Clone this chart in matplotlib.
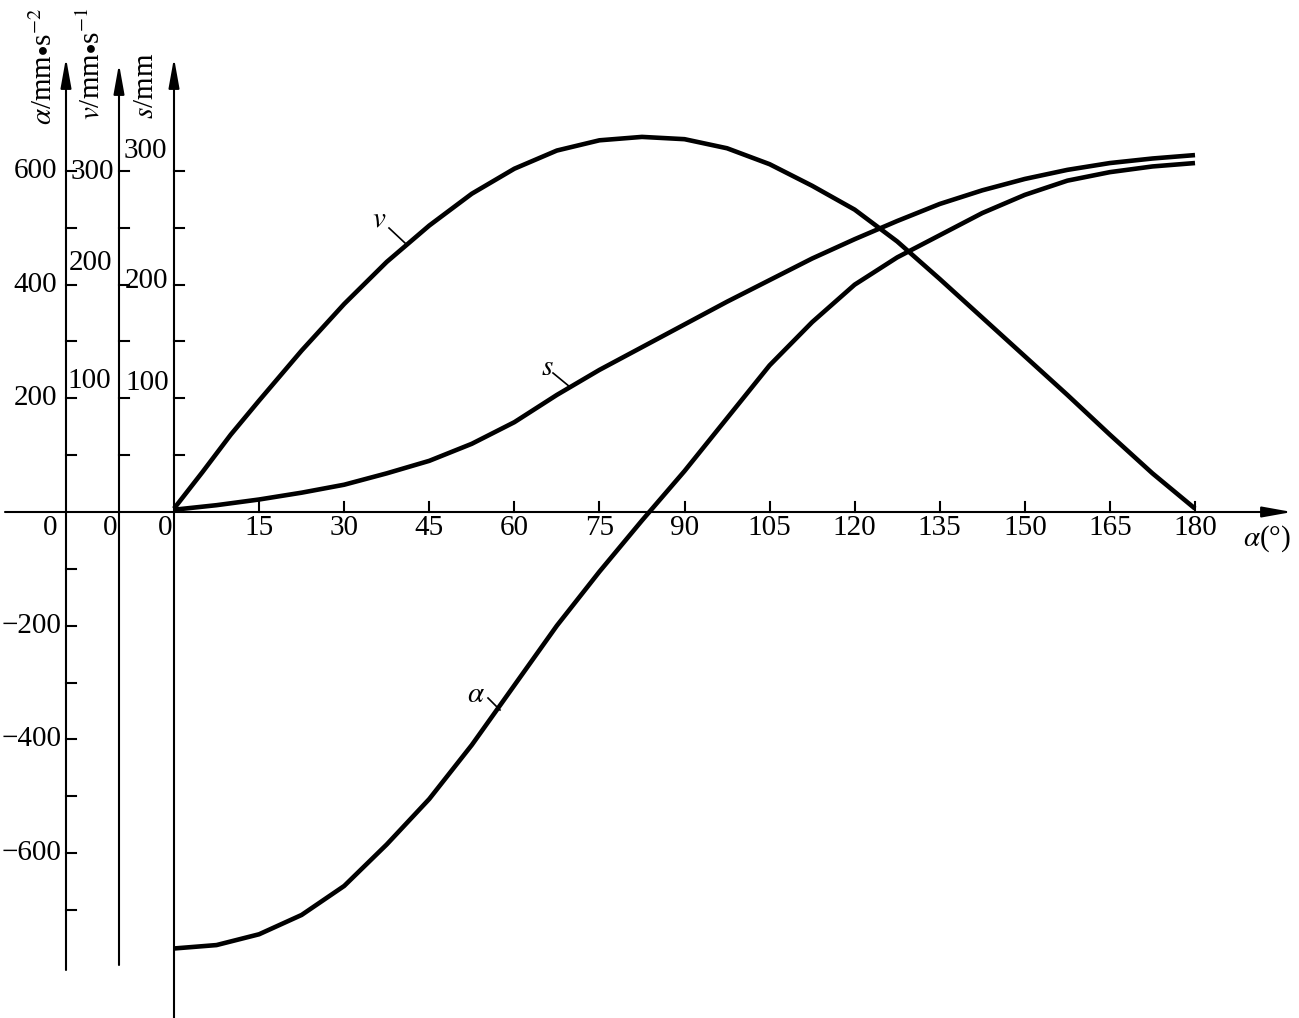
import numpy as np
import matplotlib
matplotlib.use("Agg")
import matplotlib.pyplot as plt

plt.rcParams['font.family'] = ['Liberation Serif', 'DejaVu Serif']
plt.rcParams['mathtext.fontset'] = 'stix'

# crank angle (deg) and the three motion curves
angle_v = [0, 5, 10, 15, 22.5, 30, 37.5, 45, 52.5, 60, 67.5, 75, 82.5, 90, 97.5,
           105, 112.5, 120, 127.5, 135, 142.5, 150, 157.5, 165, 172.5, 180]
velocity = [3, 35, 68, 98, 142, 183, 220, 252, 280, 302, 318, 327, 330, 328, 320,
            306, 287, 266, 238, 205, 171, 137, 103, 68, 34, 3]  # mm/s

angle_s = [0, 7.5, 15, 22.5, 30, 37.5, 45, 52.5, 60, 67.5, 75, 82.5, 90, 97.5, 105,
           112.5, 120, 127.5, 135, 142.5, 150, 157.5, 165, 172.5, 180]
displacement = [2, 6, 11, 17, 24, 34, 45, 60, 79, 103, 125, 145, 165, 185, 204,
                223, 240, 256, 271, 283, 293, 301, 307, 311, 314]  # mm

angle_a = [0, 7.5, 15, 22.5, 30, 37.5, 45, 52.5, 60, 67.5, 75, 82.5, 90, 97.5, 105,
           112.5, 120, 127.5, 135, 142.5, 150, 157.5, 165, 172.5, 180]
acceleration = [-768, -762, -743, -709, -658, -585, -505, -410, -305, -200, -105, -15,
                72, 165, 258, 334, 400, 448, 487, 526, 558, 583, 598, 608, 614]  # mm/s^2

x_ticks = [15, 30, 45, 60, 75, 90, 105, 120, 135, 150, 165, 180]
a_labels = [600, 400, 200, -200, -400, -600]
vs_labels = [100, 200, 300]

# ---- geometry of the drawing (pixels of the 1299x1018 picture)
W, H = 1299, 1018
PX_X0, PX_PER_DEG = 174, (1195 - 174) / 180
PX_Y0, PX_PER_A = 512, (512 - 171) / 600
VS_SCALE = 2.0  # 300 mm/s (or mm) sits where 600 mm/s^2 sits


def to_data(px, py):
    return (px - PX_X0) / PX_PER_DEG, (PX_Y0 - py) / PX_PER_A


fig = plt.figure(figsize=(W / 100, H / 100), dpi=100)
ax = fig.add_axes([0, 0, 1, 1])
ax.set_xlim(to_data(0, 0)[0], to_data(W, 0)[0])
ax.set_ylim(to_data(0, H)[1], to_data(0, 0)[1])
ax.axis('off')

axis_lw = 1.5
arrow = dict(arrowstyle='-|>,head_length=1.0,head_width=0.18', lw=axis_lw,
             color='black', shrinkA=0, shrinkB=0, mutation_scale=18)

# horizontal axis
ax.annotate('', xy=to_data(1292, 512), xytext=to_data(5, 512), arrowprops=arrow)

# three vertical axes: a, v, s
a_x = to_data(66, 0)[0]
v_x = to_data(119, 0)[0]
s_x = 0.0
ax.annotate('', xy=(a_x, to_data(0, 58)[1]), xytext=(a_x, to_data(0, 970)[1]), arrowprops=arrow)
ax.annotate('', xy=(v_x, to_data(0, 64)[1]), xytext=(v_x, to_data(0, 965)[1]), arrowprops=arrow)
ax.annotate('', xy=(s_x, to_data(0, 58)[1]), xytext=(s_x, to_data(0, H + 5)[1]), arrowprops=arrow)

tick_dx = 10 / PX_PER_DEG
tick_dy = 10 / PX_PER_A
for val in list(range(100, 700, 100)) + list(range(-100, -800, -100)):
    ax.plot([a_x, a_x + tick_dx], [val, val], color='black', lw=axis_lw)
for val in range(50, 350, 50):
    y = val * VS_SCALE
    ax.plot([v_x, v_x + tick_dx], [y, y], color='black', lw=axis_lw)
    ax.plot([s_x, s_x + tick_dx], [y, y], color='black', lw=axis_lw)
for xt in x_ticks:
    ax.plot([xt, xt], [0, tick_dy], color='black', lw=axis_lw)

fs = 21
y_lab = to_data(0, 528)[1]
for xt in x_ticks:
    ax.text(xt, y_lab, str(xt), fontsize=fs, ha='center', va='center')
for px in (50, 110, 165):
    ax.text(to_data(px, 0)[0], y_lab, '0', fontsize=fs, ha='center', va='center')

# a-axis labels
for val in a_labels:
    if val > 0:
        ax.text(to_data(57, 0)[0], val, str(val), fontsize=fs, ha='right', va='center')
    else:
        ax.text(to_data(2, 0)[0], val, '\u2212' + str(-val), fontsize=fs,
                ha='left', va='center')

# v-axis labels (300 beside tick, the others above)
v_pos = {300: (114, 172, 'right'), 200: (90, 263, 'center'), 100: (89, 381, 'center')}
for val in vs_labels:
    px, py, ha = v_pos[val]
    ax.text(*to_data(px, py), str(val), fontsize=fs, ha=ha, va='center')

s_pos = {300: (145, 151), 200: (147, 281), 100: (147, 383)}
for val in vs_labels:
    ax.text(*to_data(*s_pos[val]), str(val), fontsize=fs, ha='center', va='center')

# axis titles
ax.text(*to_data(44, 66), r'$\alpha$/mm$\bullet$s$^{-2}$', fontsize=fs, rotation=90,
        ha='center', va='center')
ax.text(*to_data(91, 64), r'$v$/mm$\bullet$s$^{-1}$', fontsize=fs, rotation=90,
        ha='center', va='center')
ax.text(*to_data(146, 86), r'$s$/mm', fontsize=fs, rotation=90, ha='center', va='center')
ax.text(*to_data(1267, 539), r'$\alpha$(°)', fontsize=fs, ha='center', va='center')

# curves
curve_lw = 3.3
ax.plot(angle_v, np.array(velocity) * VS_SCALE, color='black', lw=curve_lw,
        solid_capstyle='butt')
ax.plot(angle_s, np.array(displacement) * VS_SCALE, color='black', lw=curve_lw,
        solid_capstyle='butt')
ax.plot(angle_a, acceleration, color='black', lw=curve_lw, solid_capstyle='butt')

# curve labels with leader lines
for name, tpos, p0, p1 in [(r'$v$', (379, 220), (389, 228), (405, 243)),
                           (r'$s$', (547, 368), (553, 373), (570, 387)),
                           (r'$\alpha$', (476, 695), (488, 698), (500, 710))]:
    ax.text(*to_data(*tpos), name, fontsize=fs, ha='center', va='center')
    x0, y0 = to_data(*p0)
    x1, y1 = to_data(*p1)
    ax.plot([x0, x1], [y0, y1], color='black', lw=1.2)

fig.savefig('out.png', dpi=100, facecolor='white')
